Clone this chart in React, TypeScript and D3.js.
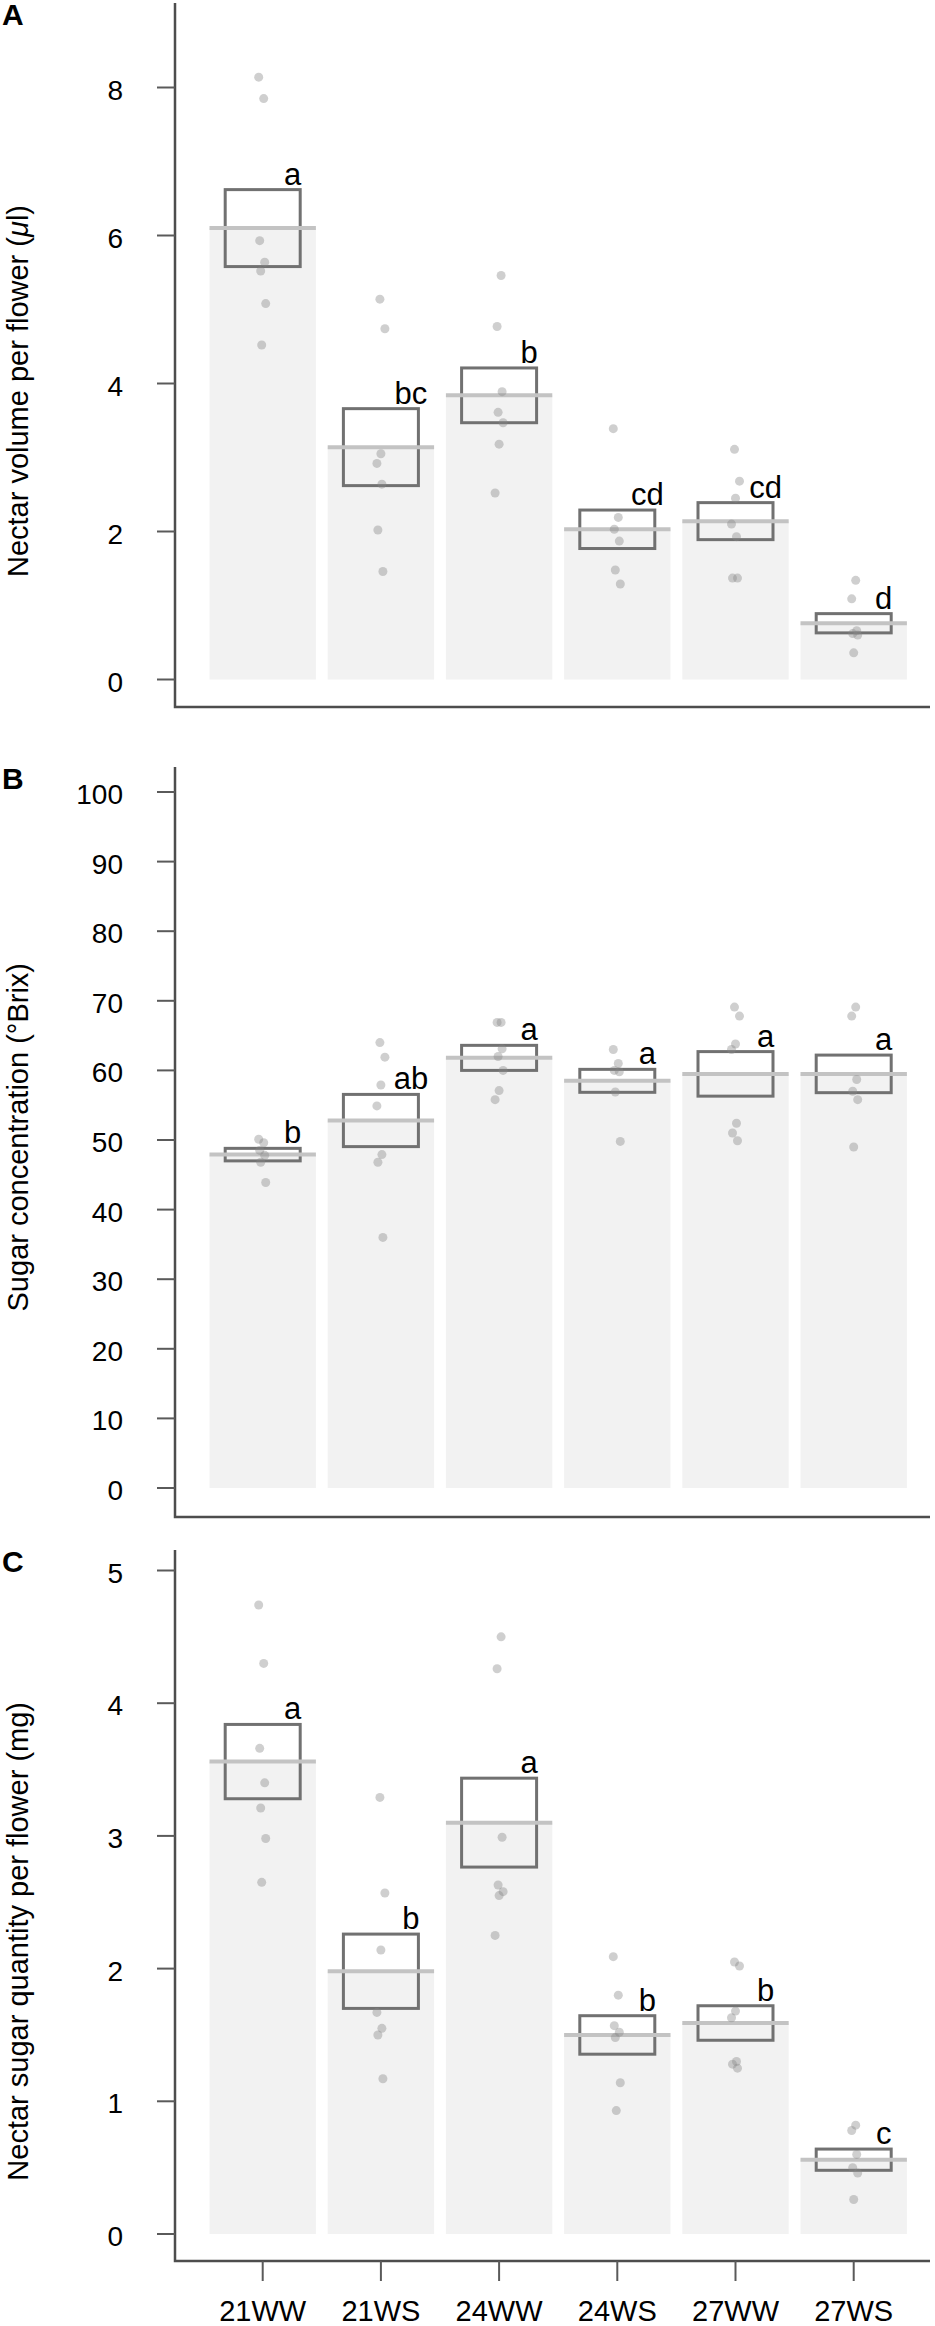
import React, { useEffect, useRef } from "react";
import * as d3 from "d3";

// Treatment groups shared by all three panels
const groups = ["21WW", "21WS", "24WW", "24WS", "27WW", "27WS"];

// Panel A: nectar volume per flower (µl)
const volumeMeans = [6.1, 3.14, 3.84, 2.03, 2.14, 0.76];
const volumeSE = [0.52, 0.52, 0.37, 0.26, 0.25, 0.13];
const volumeLetters = ["a", "bc", "b", "cd", "cd", "d"];
const volumePoints = [
  [8.14, 7.85, 5.93, 5.64, 5.52, 5.08, 4.52],
  [5.14, 4.74, 3.05, 2.92, 2.64, 2.02, 1.46],
  [5.46, 4.77, 3.89, 3.61, 3.47, 3.18, 2.52],
  [3.39, 2.19, 2.03, 1.87, 1.48, 1.29],
  [3.11, 2.68, 2.45, 2.1, 1.93, 1.37, 1.37],
  [1.34, 1.09, 0.66, 0.62, 0.6, 0.36],
];
const volumeTicks = [0, 2, 4, 6, 8];

// Panel B: sugar concentration (°Brix)
const brixMeans = [47.9, 52.8, 61.8, 58.5, 59.5, 59.5];
const brixSE = [0.9, 3.75, 1.8, 1.65, 3.2, 2.7];
const brixLetters = ["b", "ab", "a", "a", "a", "a"];
const brixPoints = [
  [50.1, 49.6, 48.5, 47.8, 46.8, 43.9],
  [64.0, 61.9, 57.9, 54.9, 47.9, 46.8, 36.0],
  [66.9, 66.9, 63.1, 62.0, 60.0, 57.1, 55.8],
  [63.0, 61.0, 60.0, 59.8, 56.9, 49.8],
  [69.1, 67.8, 63.8, 63.0, 52.4, 51.0, 49.9],
  [69.1, 67.8, 58.7, 57.0, 55.8, 49.0],
];
const brixTicks = [0, 10, 20, 30, 40, 50, 60, 70, 80, 90, 100];

// Panel C: nectar sugar quantity per flower (mg)
const sugarMeans = [3.56, 1.98, 3.1, 1.5, 1.59, 0.56];
const sugarSE = [0.28, 0.28, 0.335, 0.145, 0.13, 0.08];
const sugarLetters = ["a", "b", "a", "b", "b", "c"];
const sugarPoints = [
  [4.74, 4.3, 3.66, 3.4, 3.21, 2.98, 2.65],
  [3.29, 2.57, 2.14, 1.67, 1.55, 1.5, 1.17],
  [4.5, 4.26, 2.99, 2.63, 2.58, 2.55, 2.25],
  [2.09, 1.8, 1.57, 1.52, 1.48, 1.14, 0.93],
  [2.05, 2.02, 1.68, 1.63, 1.3, 1.28, 1.25],
  [0.82, 0.78, 0.6, 0.5, 0.46, 0.26],
];
const sugarTicks = [0, 1, 2, 3, 4, 5];

const FONT = "'Liberation Sans', Arial, Helvetica, sans-serif";
const WIDTH = 935;
const HEIGHT = 2326;

export default function App() {
  const ref = useRef<SVGSVGElement>(null);

  useEffect(() => {
    if (!ref.current) return;
    const svg = d3.select(ref.current);
    svg.selectAll("*").remove();

    const axisX = 175;
    const axisRight = 930;

    // one band scale for all panels
    const x = d3
      .scaleBand<string>()
      .domain(groups)
      .range([203.6, 912.8])
      .paddingInner(0.1)
      .paddingOuter(0.05);
    const bw = x.bandwidth();
    const boxW = bw * 0.705;
    const cx = (g: string) => (x(g) || 0) + bw / 2;

    const panels = [
      {
        id: "A",
        title: ["Nectar volume per flower (", "μ", "l)"],
        titleEnd: 205,
        means: volumeMeans,
        se: volumeSE,
        letters: volumeLetters,
        points: volumePoints,
        ticks: volumeTicks,
        domain: [0, 8],
        range: [679.5, 87.5],
        top: 3,
        bottom: 707,
        showX: false,
      },
      {
        id: "B",
        title: ["Sugar concentration (°Brix)"],
        titleEnd: 963,
        means: brixMeans,
        se: brixSE,
        letters: brixLetters,
        points: brixPoints,
        ticks: brixTicks,
        domain: [0, 100],
        range: [1488, 792],
        top: 767,
        bottom: 1517,
        showX: false,
      },
      {
        id: "C",
        title: ["Nectar sugar quantity per flower (mg)"],
        titleEnd: 1702,
        means: sugarMeans,
        se: sugarSE,
        letters: sugarLetters,
        points: sugarPoints,
        ticks: sugarTicks,
        domain: [0, 5],
        range: [2234, 1570.5],
        top: 1550,
        bottom: 2261,
        showX: true,
      },
    ];

    panels.forEach((p) => {
      const y = d3.scaleLinear().domain(p.domain).range(p.range);
      const g = svg.append("g").attr("font-family", FONT);

      // panel letter
      g.append("text")
        .attr("x", 2)
        .attr("y", p.top + 22)
        .attr("font-size", 30)
        .attr("font-weight", "bold")
        .text(p.id);

      // y axis title
      const title = g
        .append("text")
        .attr("transform", `translate(28,${p.titleEnd}) rotate(-90)`)
        .attr("text-anchor", "end")
        .attr("font-size", 29);
      p.title.forEach((t, i) => {
        title
          .append("tspan")
          .attr("font-style", t === "μ" ? "italic" : null)
          .text(t);
      });

      // bars
      g.selectAll("rect.bar")
        .data(groups)
        .join("rect")
        .attr("class", "bar")
        .attr("x", (d) => x(d) || 0)
        .attr("width", bw)
        .attr("y", (d, i) => y(p.means[i]))
        .attr("height", (d, i) => y(0) - y(p.means[i]))
        .attr("fill", "#f2f2f2");

      // SE boxes
      g.selectAll("rect.box")
        .data(groups)
        .join("rect")
        .attr("class", "box")
        .attr("x", (d) => cx(d) - boxW / 2)
        .attr("width", boxW)
        .attr("y", (d, i) => y(p.means[i] + p.se[i]))
        .attr("height", (d, i) => y(p.means[i] - p.se[i]) - y(p.means[i] + p.se[i]))
        .attr("fill", "none")
        .attr("stroke", "#717171")
        .attr("stroke-width", 3);

      // mean lines
      g.selectAll("line.mean")
        .data(groups)
        .join("line")
        .attr("class", "mean")
        .attr("x1", (d) => x(d) || 0)
        .attr("x2", (d) => (x(d) || 0) + bw)
        .attr("y1", (d, i) => y(p.means[i]))
        .attr("y2", (d, i) => y(p.means[i]))
        .attr("stroke", "#c3c3c3")
        .attr("stroke-width", 4);

      // raw points
      groups.forEach((grp, gi) => {
        g.selectAll(`circle.pt${gi}`)
          .data(p.points[gi])
          .join("circle")
          .attr("class", `pt${gi}`)
          .attr("cx", (d, i) => cx(grp) + (((i * 5 + gi * 3) % 9) - 4))
          .attr("cy", (d) => y(d))
          .attr("r", 4.5)
          .attr("fill", "#888")
          .attr("fill-opacity", 0.4);
      });

      // significance letters
      g.selectAll("text.letter")
        .data(groups)
        .join("text")
        .attr("class", "letter")
        .attr("x", (d) => cx(d) + 30)
        .attr("y", (d, i) => y(p.means[i] + p.se[i]) - 5)
        .attr("text-anchor", "middle")
        .attr("font-size", 31)
        .text((d, i) => p.letters[i]);

      // axis frame (L shape)
      g.append("path")
        .attr("d", `M${axisX},${p.top}V${p.bottom}H${axisRight}`)
        .attr("fill", "none")
        .attr("stroke", "#4d4d4d")
        .attr("stroke-width", 2.5);

      // y ticks
      g.selectAll("line.ytick")
        .data(p.ticks)
        .join("line")
        .attr("class", "ytick")
        .attr("x1", axisX - 18)
        .attr("x2", axisX)
        .attr("y1", (d) => y(d))
        .attr("y2", (d) => y(d))
        .attr("stroke", "#5a5a5a")
        .attr("stroke-width", 2);

      g.selectAll("text.ylab")
        .data(p.ticks)
        .join("text")
        .attr("class", "ylab")
        .attr("x", 123)
        .attr("y", (d) => y(d) + 12)
        .attr("text-anchor", "end")
        .attr("font-size", 28)
        .text((d) => d);

      if (p.showX) {
        g.selectAll("line.xtick")
          .data(groups)
          .join("line")
          .attr("class", "xtick")
          .attr("x1", (d) => cx(d))
          .attr("x2", (d) => cx(d))
          .attr("y1", p.bottom)
          .attr("y2", p.bottom + 20)
          .attr("stroke", "#5a5a5a")
          .attr("stroke-width", 2);

        g.selectAll("text.xlab")
          .data(groups)
          .join("text")
          .attr("class", "xlab")
          .attr("x", (d) => cx(d))
          .attr("y", p.bottom + 60)
          .attr("text-anchor", "middle")
          .attr("font-size", 29)
          .text((d) => d);
      }
    });
  }, []);

  return (
    <svg
      ref={ref}
      width={WIDTH}
      height={HEIGHT}
      viewBox={`0 0 ${WIDTH} ${HEIGHT}`}
      style={{ position: "absolute", left: 0, top: 0, background: "#fff" }}
    />
  );
}
